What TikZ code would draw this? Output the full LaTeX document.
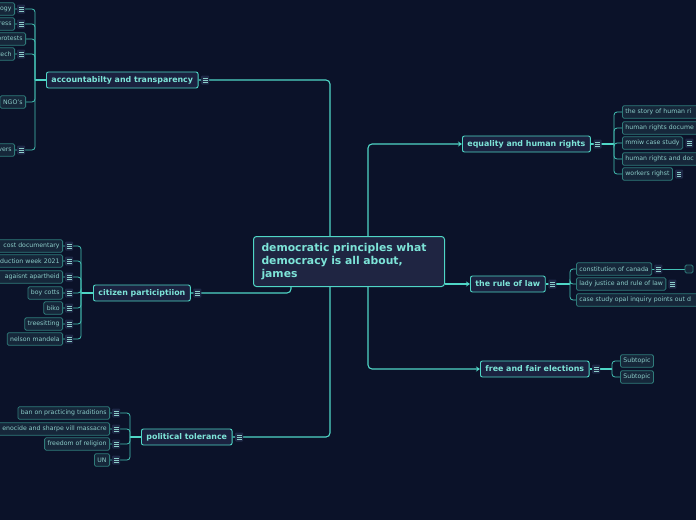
\documentclass[tikz,border=0pt]{standalone}
\usepackage{fontspec}
\setmainfont{DejaVu Sans}
\usepackage{tikz}
\usetikzlibrary{arrows.meta,backgrounds,positioning}
\definecolor{dembg}{HTML}{0B1229}
\definecolor{demline}{HTML}{4FD6C6}
\definecolor{demtext}{HTML}{7DE4D8}
\definecolor{demhubfill}{HTML}{1F2542}
\definecolor{demtopicfill}{HTML}{1B2240}
\definecolor{demleaffill}{HTML}{16273A}
\definecolor{demleafline}{HTML}{2F7B7A}
\definecolor{demleaftext}{HTML}{8CCDC9}
\definecolor{demmenufill}{HTML}{1E2846}
\definecolor{demtwigline}{HTML}{44C2B5}
\tikzset{%
  demhub/.style={%
    draw=demline,
    fill=demhubfill,
    line width=1pt,
    rounded corners=3pt,
    text=demtext,
    font=\fontsize{10.8}{13}\selectfont\bfseries,
    align=left,
    text width=175pt,
    minimum height=50pt,
    inner xsep=8pt,
    anchor=north west
  },
  demtopic/.style={%
    draw=demline,
    fill=demtopicfill,
    line width=0.9pt,
    rounded corners=2pt,
    text=demtext,
    font=\fontsize{7.9}{10}\selectfont\bfseries,
    minimum height=16pt,
    inner xsep=5pt,
    inner ysep=0pt,
    anchor=west
  },
  demleaf/.style={%
    draw=demleafline,
    fill=demleaffill,
    line width=0.8pt,
    rounded corners=1.5pt,
    text=demleaftext,
    font=\fontsize{6.2}{7}\selectfont,
    minimum height=12.5pt,
    inner xsep=3pt,
    inner ysep=0pt
  },
  demcut/.style={demleaf,text width=#1,align=right,anchor=east},
  demrun/.style={demleaf,text width=#1,align=left,anchor=west},
  demmenu/.style={%
    fill=demmenufill,
    rounded corners=1pt,
    minimum width=8pt,
    minimum height=9pt,
    inner sep=0pt,
    path picture={%
      \foreach \dy in {-2.2,0,2.2}
        \draw[demleaftext,line width=0.6pt]
          ([xshift=-2.3pt,yshift=\dy pt]path picture bounding box.center) -- ++(4.6pt,0);
    }
  },
  demtrunk/.style={draw=demline,line width=1.1pt,rounded corners=4pt},
  demtwig/.style={draw=demtwigline,line width=0.8pt,rounded corners=3pt},
  demtip/.style={-{Stealth[length=4pt,width=5pt]}}
}

\begin{document}
\begin{tikzpicture}[x=1pt,y=-1pt]
    \useasboundingbox (0,0) rectangle (696,520);
    \clip (0,0) rectangle (696,520);

    \node[demhub] (hub) at (253,236) {democratic principles what\\democracy is all about,\\james};
    \coordinate (hubl) at (330,261);
    \coordinate (hubr) at (368,261);
    \coordinate (citl) at (291,261);

    % main topics
    \node[demtopic] (acc) at (46,80) {accountabilty and transparency};
    \node[demmenu,right=2.5pt of acc] (acc-m) {};
    \node[demtopic] (cit) at (93,293) {citizen participtiion};
    \node[demmenu,right=2.5pt of cit] (cit-m) {};
    \node[demtopic] (pol) at (141,437) {political tolerance};
    \node[demmenu,right=2.5pt of pol] (pol-m) {};
    \node[demtopic] (equ) at (462,144) {equality and human rights};
    \node[demmenu,right=2.5pt of equ] (equ-m) {};
    \node[demtopic] (law) at (470,284) {the rule of law};
    \node[demmenu,right=2.5pt of law] (law-m) {};
    \node[demtopic] (vote) at (480,369) {free and fair elections};
    \node[demmenu,right=2.5pt of vote] (vote-m) {};

    % accountabilty and transparency
    \coordinate (acc-j) at (35,80);
    \node[demcut=40pt] (acc1) at (15,9) {ogy};
    \node[demmenu,right=2pt of acc1] (acc1-m) {};
    \node[demcut=40pt] (acc2) at (15,24) {ress};
    \node[demmenu,right=2pt of acc2] (acc2-m) {};
    \node[demcut=40pt] (acc3) at (26,39) {protests};
    \node[demcut=40pt] (acc4) at (15,54) {tech};
    \node[demmenu,right=2pt of acc4] (acc4-m) {};
    \node[demleaf,anchor=east] (acc5) at (26,102) {NGO's};
    \node[demcut=40pt] (acc6) at (15,150) {vers};
    \node[demmenu,right=2pt of acc6] (acc6-m) {};

    % citizen participtiion
    \coordinate (cit-j) at (81,293);
    \node[demcut=70pt] (cit1) at (63,246) {cost documentary};
    \node[demmenu,right=2pt of cit1] (cit1-m) {};
    \node[demcut=70pt] (cit2) at (63,261) {duction week 2021};
    \node[demmenu,right=2pt of cit2] (cit2-m) {};
    \node[demcut=70pt] (cit3) at (63,277) {agaisnt apartheid};
    \node[demmenu,right=2pt of cit3] (cit3-m) {};
    \node[demleaf,anchor=east] (cit4) at (63,293) {boy cotts};
    \node[demmenu,right=2pt of cit4] (cit4-m) {};
    \node[demleaf,anchor=east] (cit5) at (63,308) {biko};
    \node[demmenu,right=2pt of cit5] (cit5-m) {};
    \node[demleaf,anchor=east] (cit6) at (63,324) {treesitting};
    \node[demmenu,right=2pt of cit6] (cit6-m) {};
    \node[demleaf,anchor=east] (cit7) at (63,339) {nelson mandela};
    \node[demmenu,right=2pt of cit7] (cit7-m) {};

    % political tolerance
    \coordinate (pol-j) at (130,437);
    \node[demleaf,anchor=east] (pol1) at (110,413) {ban on practicing traditions};
    \node[demmenu,right=2pt of pol1] (pol1-m) {};
    \node[demcut=120pt] (pol2) at (110,429) {enocide and sharpe vill massacre};
    \node[demmenu,right=2pt of pol2] (pol2-m) {};
    \node[demleaf,anchor=east] (pol3) at (110,444) {freedom of religion};
    \node[demmenu,right=2pt of pol3] (pol3-m) {};
    \node[demleaf,anchor=east] (pol4) at (110,460) {UN};
    \node[demmenu,right=2pt of pol4] (pol4-m) {};

    % equality and human rights
    \coordinate (equ-j) at (614,144);
    \node[demrun=90pt] (equ1) at (622,112) {the story of human ri};
    \node[demrun=90pt] (equ2) at (622,128) {human rights docume};
    \node[demleaf,anchor=west] (equ3) at (622,143) {mmiw case study};
    \node[demmenu,right=2pt of equ3] (equ3-m) {};
    \node[demrun=90pt] (equ4) at (622,159) {human rights and doc};
    \node[demleaf,anchor=west] (equ5) at (622,174) {workers righst};
    \node[demmenu,right=2pt of equ5] (equ5-m) {};

    % the rule of law
    \coordinate (law-j) at (570,284);
    \node[demleaf,anchor=west] (law1) at (576,269) {constitution of canada};
    \node[demmenu,right=2pt of law1] (law1-m) {};
    \node[demleaf,minimum width=8pt,minimum height=8pt] (law1-x) at (689,269) {};
    \node[demleaf,anchor=west] (law2) at (576,284) {lady justice and rule of law};
    \node[demmenu,right=2pt of law2] (law2-m) {};
    \node[demrun=140pt] (law3) at (576,300) {case study opal inquiry points out d};

    % free and fair elections
    \coordinate (vote-j) at (612,369);
    \node[demleaf,anchor=west] (vote1) at (620,361) {Subtopic};
    \node[demleaf,anchor=west] (vote2) at (620,377) {Subtopic};

    \begin{scope}[on background layer]
      \fill[dembg] (0,0) rectangle (696,520);

      \draw[demtrunk] (acc.east) -| (hub.north -| hubl);
      \draw[demtrunk] (pol.east) -| (hub.south -| hubl);
      \draw[demtrunk] (cit.east) -| (hub.south -| citl);
      \draw[demtrunk,demtip] (hub.north -| hubr) |- (equ.west);
      \draw[demtrunk,demtip] (hub.south -| hubr) |- (vote.west);
      \draw[demtrunk,demtip] (hub.east |- law.west) -- (law.west);

      \draw[demtrunk] (acc-j) -- (acc.west);
      \foreach \n in {acc1,acc2,acc3,acc4,acc5,acc6}
        \draw[demtwig] (acc-j) |- (\n.east);
      \draw[demtrunk] (cit-j) -- (cit.west);
      \foreach \n in {cit1,cit2,cit3,cit4,cit5,cit6,cit7}
        \draw[demtwig] (cit-j) |- (\n.east);
      \draw[demtrunk] (pol-j) -- (pol.west);
      \foreach \n in {pol1,pol2,pol3,pol4}
        \draw[demtwig] (pol-j) |- (\n.east);

      \draw[demtrunk] (equ.east) -- (equ-j);
      \foreach \n in {equ1,equ2,equ3,equ4,equ5}
        \draw[demtwig] (equ-j) |- (\n.west);
      \draw[demtrunk] (law.east) -- (law-j);
      \foreach \n in {law1,law2,law3}
        \draw[demtwig] (law-j) |- (\n.west);
      \draw[demtwig] (law1.east) -- (law1-x.west);
      \draw[demtrunk] (vote.east) -- (vote-j);
      \foreach \n in {vote1,vote2}
        \draw[demtwig] (vote-j) |- (\n.west);
    \end{scope}
  \end{tikzpicture}
\end{document}
